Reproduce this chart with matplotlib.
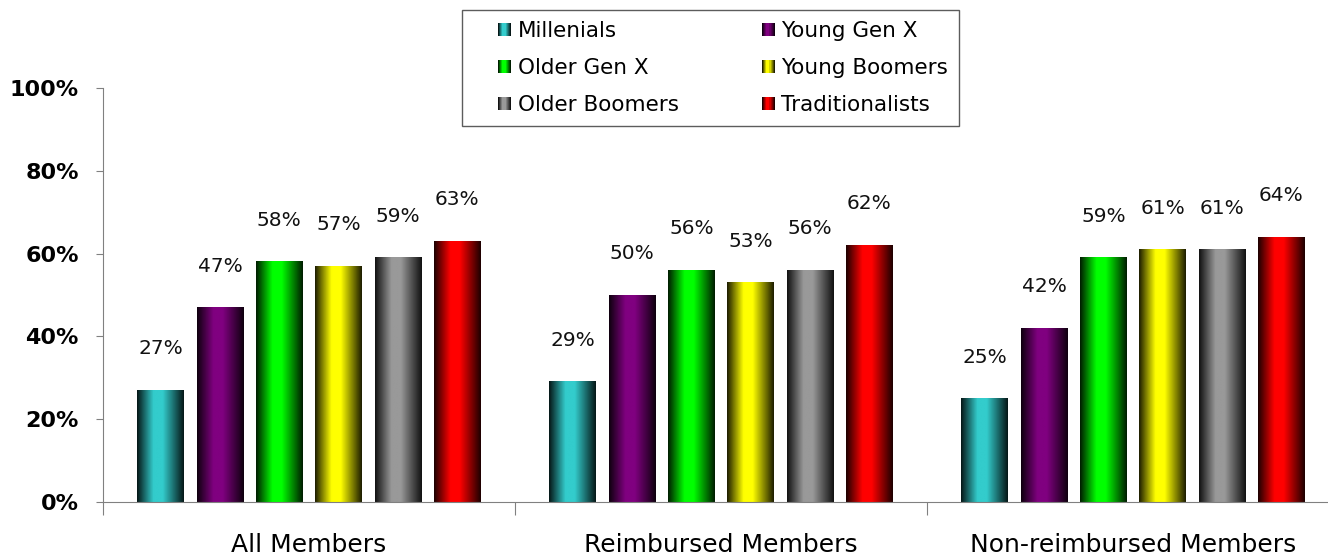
#!/usr/bin/env python3

import numpy as np
import matplotlib.pyplot as plt
from matplotlib.patches import Rectangle
from matplotlib.legend_handler import HandlerBase
from matplotlib.colors import to_rgb

categories = ["All Members", "Reimbursed Members", "Non-reimbursed Members"]
groups = ["Millenials", "Young Gen X", "Older Gen X", "Young Boomers",
          "Older Boomers", "Traditionalists"]
colors = ["#33CCCC", "#800080", "#00FF00", "#FFFF00", "#999999", "#FF0000"]

millenials = [27, 29, 25]
young_gen_x = [47, 50, 42]
older_gen_x = [58, 56, 59]
young_boomers = [57, 53, 61]
older_boomers = [59, 56, 61]
traditionalists = [63, 62, 64]
series = [millenials, young_gen_x, older_gen_x, young_boomers,
          older_boomers, traditionalists]

# horizontal shading across a bar: dark edges, bright just left of centre
shade_t = [0.0, 0.35, 0.55, 1.0]
shade_f = [0.12, 1.0, 1.0, 0.12]


def gradient_img(color, n=64):
    t = np.linspace(0, 1, n)
    f = np.interp(t, shade_t, shade_f)
    rgb = np.array(to_rgb(color))
    return (f[:, None] * rgb[None, :])[None, :, :]


class HandlerGrad(HandlerBase):
    # small shaded square drawn at the right end of the handle area
    def create_artists(self, legend, orig_handle, xdescent, ydescent,
                       width, height, fontsize, trans):
        img = gradient_img(orig_handle.get_facecolor()[:3], 12)[0]
        n = len(img)
        sq = 0.62 * fontsize
        x0 = -xdescent + width - sq
        y0 = -ydescent + (height - sq) / 2
        arts = []
        for i, c in enumerate(img):
            r = Rectangle((x0 + i * sq / n, y0), sq / n * 1.05, sq,
                          facecolor=c, edgecolor='none', transform=trans)
            arts.append(r)
        return arts


fig = plt.figure(figsize=(13.28, 5.58), dpi=100)
ax = fig.add_axes([103 / 1328, 56 / 558, 1236 / 1328, 414 / 558])

x = np.arange(len(categories)) + 0.5
step = 0.144
width = 0.114
handles = []
for i, (vals, col) in enumerate(zip(series, colors)):
    offs = (i - 2.5) * step
    bars = ax.bar(x + offs, vals, width, color='none', edgecolor='none')
    for b, v in zip(bars, vals):
        x0, y0 = b.get_x(), b.get_y()
        ax.imshow(gradient_img(col), extent=[x0, x0 + b.get_width(), y0, y0 + b.get_height()],
                  aspect='auto', zorder=2, interpolation='bilinear')
        ax.text(x0 + b.get_width() / 2, v + 10, f"{v}%", ha='center', va='center',
                fontsize=14.5, color='#111111')
    handles.append(Rectangle((0, 0), 1, 1, facecolor=col))

ax.set_xlim(0, 3)
ax.set_ylim(0, 100)
ax.set_yticks([0, 20, 40, 60, 80, 100])
ax.set_yticklabels([f"{v}%" for v in [0, 20, 40, 60, 80, 100]],
                   fontsize=16, fontweight='bold')
ax.set_xticks([0, 1, 2, 3])
ax.set_xticklabels([])
ax.set_xticks(x, minor=True)
ax.set_xticklabels(categories, minor=True, fontsize=18)
ax.tick_params(axis='x', which='minor', length=0, pad=22)
ax.tick_params(axis='x', which='major', length=9, color='#808080', direction='out')
ax.tick_params(axis='y', length=5, color='#808080', pad=12.5)
for s in ['top', 'right']:
    ax.spines[s].set_visible(False)
for s in ['left', 'bottom']:
    ax.spines[s].set_color('#808080')

# legend is filled column by column, reference reads row by row
order = [0, 2, 4, 1, 3, 5]
leg = fig.legend([handles[k] for k in order], [groups[k] for k in order],
                 ncol=2, loc='upper left',
                 bbox_to_anchor=(462 / 1328, 1 - 10 / 558),
                 handler_map={Rectangle: HandlerGrad()},
                 fontsize=15.5, frameon=True, fancybox=False, edgecolor='#333333',
                 handlelength=1.78, handleheight=0.7, handletextpad=0.3,
                 columnspacing=2.7, labelspacing=0.8, borderpad=0.5,
                 borderaxespad=0)
leg.get_frame().set_linewidth(1.0)

fig.savefig("out.png", dpi=100)
